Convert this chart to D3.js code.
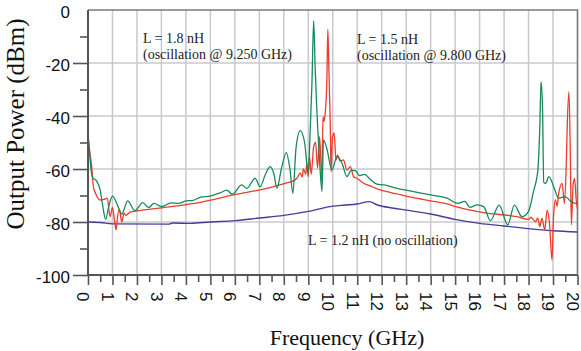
<!DOCTYPE html>
<meta charset="utf-8">

<style type="text/css">
  body {
    margin: 0;
    background: #fff;
  }

  .tick-label {
    font: 17px "Liberation Sans", Arial, sans-serif;
    fill: #111;
  }

  .title {
    font-family: "Liberation Serif", "Times New Roman", serif;
    fill: #111;
  }

  .note {
    font: 14px "Liberation Serif", "Times New Roman", serif;
    fill: #222;
  }
</style>

<body>
</body>

<script src="https://d3js.org/d3.v7.min.js"></script>
<script>
  // L = 1.8 nH, oscillation @ 9.250 GHz
  var greenFreq = [0, 0.05, 0.12, 0.2, 0.35, 0.5, 0.62, 0.72, 0.85, 1.0, 1.2, 1.38, 1.62, 1.92, 2.24, 2.47, 2.7, 3.0,
    3.4, 3.7, 4.0, 4.3, 4.58, 5.0, 5.4, 5.67, 5.9, 6.28, 6.49, 6.83, 7.03, 7.25, 7.44, 7.6, 7.72, 7.9, 8.1, 8.25,
    8.37, 8.5, 8.67, 8.85, 9.0, 9.08, 9.15, 9.22, 9.28, 9.35, 9.45, 9.56, 9.62, 9.75, 9.97, 10.17, 10.38, 10.58,
    10.75, 10.92, 11.1, 11.3, 11.53, 11.8, 12.1, 12.63, 13.3, 14.0, 14.67, 15.1, 15.4, 15.6, 15.9, 16.17, 16.44,
    16.8, 17.15, 17.42, 17.73, 18.0, 18.2, 18.38, 18.46, 18.51, 18.57, 18.62, 18.7, 18.83, 19.03, 19.23, 19.5,
    19.7, 19.92, 20
  ];
  var greenPow = [-46.4, -52, -60, -63.4, -64.5, -68, -75, -79, -74, -70.2, -73.5, -77, -72, -75.7, -72.7, -74.5, -73, -74.2,
    -72.8, -73, -72, -71.8, -70.7, -70.2, -69, -68, -69.5, -66, -67.3, -63.5, -66.7, -62, -59.1, -62, -67.3, -60, -53.8, -60,
    -69.2, -52, -45.5, -50, -61.5, -45, -27.7, -4, -21.4, -37.7, -55, -68.5, -49, -52, -60.4, -55.3, -57.8, -62.9,
    -60.5, -60.6, -62.5, -62, -63.9, -65.7, -66, -67.3, -68.5, -69.8, -71, -73, -72.2, -74.5, -73.5, -74.2, -79.5,
    -73.6, -81.1, -73.6, -78, -76, -68.5, -60.4, -44, -27, -36.5, -65, -65.4, -62.9, -66.7, -71, -70.4,
    -72, -73, -73
  ];

  // L = 1.5 nH, oscillation @ 9.800 GHz
  var redFreq = [0, 0.05, 0.15, 0.22, 0.3, 0.49, 0.65, 0.79, 0.9, 1.0, 1.08, 1.15, 1.2, 1.28, 1.38, 1.47, 1.55, 1.72,
    3.0, 4.58, 5.94, 7.31, 8.12, 8.4, 8.53, 8.67, 8.75, 8.8, 8.9, 8.94, 9.0, 9.05, 9.12, 9.22, 9.3, 9.38, 9.46, 9.52,
    9.56, 9.6, 9.65, 9.7, 9.76, 9.8, 9.84, 9.9, 9.93, 9.99, 10.06, 10.13, 10.2, 10.3, 10.44, 10.58, 10.72, 10.85,
    10.99, 11.26, 11.53, 11.94, 12.63, 13.3, 14.0, 14.67, 15.15, 16.17, 17.53, 18.0, 18.1, 18.28, 18.38, 18.46,
    18.55, 18.66, 18.76, 18.85, 18.96, 19.02, 19.1, 19.17, 19.23, 19.37, 19.47, 19.55, 19.58, 19.65, 19.71, 19.75,
    19.82, 19.88, 19.95, 20
  ];
  var redPow = [-48, -52, -59, -66.7, -69, -71.7, -71.5, -71, -78, -74.5, -79.2, -83, -78.6, -75.2, -80, -76.7, -77.5, -76.3,
    -74.7, -72.6, -69.8, -67.3, -65.2, -64.5, -63.5, -61.6, -63, -60, -62, -57.8, -63, -55.3, -62, -51.6, -50, -59.7, -47.8, -58,
    -65.4, -40.2, -42, -38, -26.4, -7.3, -21.4, -44, -61, -47.8, -46.5, -56.6, -54.7, -57, -56.6, -60.4, -59.1, -62.9,
    -63.5, -65.4, -66.4, -67.9, -69.4, -70.8, -72, -73.2, -74.5, -76.5, -78, -79, -78.2, -79.9, -78.5, -81.8,
    -78.5, -83, -75.5, -80, -94.3, -78, -71.7, -74, -69.2, -65.4, -73, -55, -44, -30.8, -56.6, -81,
    -66, -63.5, -72, -75
  ];

  // L = 1.2 nH, no oscillation
  var blueFreq = [0, 0.5, 1.0, 3.3, 3.45, 4.2, 5, 6, 7, 8, 9, 10, 10.5, 11, 11.5, 11.8, 12.5, 13, 14, 15, 16, 17, 18, 19, 20];
  var bluePow = [-80, -80.2, -80.7, -80.8, -80.4, -80.5, -80, -79.5, -78.5, -77.5, -76, -74, -73.6, -73.2, -72.3, -73.5,
    -74.8, -75.5, -77, -79, -80.5, -81.5, -82.5, -83.3, -83.8
  ];

  var xTicks = d3.range(0, 21);
  var yTicks = [0, -20, -40, -60, -80, -100];

  var width = 581,
    height = 351;

  var x = d3.scaleLinear().domain([0, 20]).range([88, 577.5]);
  var y = d3.scaleLinear().domain([-100, 0]).range([275, 10]);

  var svg = d3.select("body")
    .append("svg")
    .attr("width", width)
    .attr("height", height);

  // grid
  var grid = svg.append("g");
  grid.selectAll(".vgrid")
    .data(xTicks.slice(1))
    .enter().append("line")
    .attr("x1", d => x(d)).attr("x2", d => x(d))
    .attr("y1", y(0)).attr("y2", y(-100))
    .style("stroke", "#c8c8d2")
    .style("stroke-width", 1.5);
  grid.selectAll(".hgrid")
    .data(yTicks.slice(1, 5))
    .enter().append("line")
    .attr("x1", x(0)).attr("x2", x(20))
    .attr("y1", d => y(d)).attr("y2", d => y(d))
    .style("stroke", "#c8c8d2")
    .style("stroke-width", 1.5);

  // frame top / right
  svg.append("path")
    .attr("d", "M" + x(0) + "," + y(0) + "H" + x(20) + "V" + y(-100))
    .style("fill", "none")
    .style("stroke", "#7a7a80")
    .style("stroke-width", 1.5);

  var line = d3.line()
    .curve(d3.curveMonotoneX)
    .x(d => x(d[0]))
    .y(d => y(d[1]));

  function series(f, p) {
    return f.map((d, i) => [d, p[i]]);
  }

  svg.append("path")
    .datum(series(blueFreq, bluePow))
    .attr("d", line)
    .style("fill", "none")
    .style("stroke", "#4a3a9c")
    .style("stroke-width", 1.4);

  svg.append("path")
    .datum(series(redFreq, redPow))
    .attr("d", line)
    .style("fill", "none")
    .style("stroke", "#ee3b2a")
    .style("stroke-width", 1.3);

  svg.append("path")
    .datum(series(greenFreq, greenPow))
    .attr("d", line)
    .style("fill", "none")
    .style("stroke", "#148a5a")
    .style("stroke-width", 1.3);

  // axes
  var axisColor = "#555";
  var xAxis = d3.axisBottom(x)
    .tickValues(d3.range(0, 20.01, 0.5))
    .tickSize(0)
    .tickFormat("");
  var gx = svg.append("g")
    .attr("transform", "translate(0," + y(-100) + ")")
    .call(xAxis);
  gx.select(".domain").remove();
  gx.selectAll(".tick line")
    .attr("y2", d => d % 1 === 0 ? 10 : 7)
    .style("stroke", axisColor)
    .style("stroke-width", 1.6);

  var yAxis = d3.axisLeft(y)
    .tickValues(d3.range(-100, -5, 10))
    .tickSize(0)
    .tickFormat("");
  var gy = svg.append("g")
    .attr("transform", "translate(" + x(0) + ",0)")
    .call(yAxis);
  gy.select(".domain").remove();
  gy.selectAll(".tick line")
    .attr("x2", d => d % 20 === 0 ? -15 : -8)
    .style("stroke", axisColor)
    .style("stroke-width", 1.6);

  svg.append("path")
    .attr("d", "M" + x(0) + "," + y(0) + "V" + y(-100) + "H" + x(20))
    .style("fill", "none")
    .style("stroke", axisColor)
    .style("stroke-width", 2);

  // tick labels
  svg.selectAll(".ylab")
    .data(yTicks)
    .enter().append("text")
    .attr("class", "tick-label")
    .attr("x", 70)
    .attr("y", d => y(d))
    .attr("dy", "0.45em")
    .style("text-anchor", "end")
    .text(d => d);

  svg.selectAll(".xlab")
    .data(xTicks)
    .enter().append("text")
    .attr("class", "tick-label")
    .attr("transform", d => "translate(" + x(d) + ",292) rotate(90)")
    .attr("dy", "0.62em")
    .style("text-anchor", "start")
    .text(d => d);

  // axis titles
  svg.append("text")
    .attr("class", "title")
    .attr("transform", "translate(24,124) rotate(-90)")
    .style("text-anchor", "middle")
    .style("font-size", "25px")
    .text("Output Power (dBm)");

  svg.append("text")
    .attr("class", "title")
    .attr("x", 347)
    .attr("y", 345)
    .style("text-anchor", "middle")
    .style("font-size", "22px")
    .text("Frequency (GHz)");

  // annotations
  var notes = [
    [143, 43, "L = 1.8 nH"],
    [143, 59, "(oscillation @ 9.250 GHz)"],
    [357, 44, "L = 1.5 nH"],
    [357, 60, "(oscillation @ 9.800 GHz)"],
    [308, 245, "L = 1.2 nH (no oscillation)"]
  ];
  svg.selectAll(".note")
    .data(notes)
    .enter().append("text")
    .attr("class", "note")
    .attr("x", d => d[0])
    .attr("y", d => d[1])
    .text(d => d[2]);
</script>
